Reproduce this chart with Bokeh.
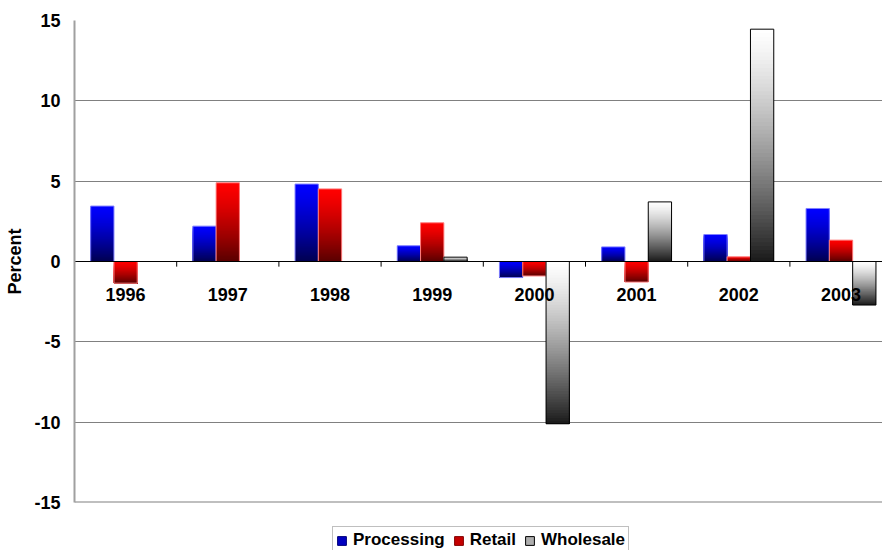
from bokeh.plotting import figure
from bokeh.layouts import column
from bokeh.models import (Range1d, FixedTicker, ColumnDataSource, Legend, LegendItem,
                          CustomJSTickFormatter)
from bokeh.embed import file_html
from bokeh.resources import INLINE

# Annual percent change by sector
years = ["1996", "1997", "1998", "1999", "2000", "2001", "2002", "2003"]
processing = [3.45, 2.2, 4.82, 0.98, -1.0, 0.91, 1.68, 3.3]
retail = [-1.35, 4.9, 4.52, 2.41, -0.9, -1.28, 0.29, 1.33]
wholesale = [None, None, None, 0.27, -10.1, 3.71, 14.46, -2.71]
y_ticks = [-15, -10, -5, 0, 5, 10, 15]

FONT = "Liberation Sans"

# series styling: (name, values, offset, top colour, bottom colour, outline)
series = [
    ("Processing", processing, -0.228, (0, 0, 255), (0, 0, 80), "#8080ff"),
    ("Retail", retail, 0.0, (255, 0, 0), (90, 0, 0), "#ff8080"),
    ("Wholesale", wholesale, 0.228, (255, 255, 255), (26, 26, 26), "#000000"),
]
BAR_W = 0.228
STEPS = 60
X_END = 7.406

p = figure(width=882, height=516, output_backend="svg", toolbar_location=None,
           x_range=Range1d(-0.5, X_END), y_range=Range1d(-15, 15),
           x_axis_location=None, min_border_left=74, min_border_right=0,
           min_border_top=20, min_border_bottom=14)
p.outline_line_color = None
p.background_fill_color = "white"
p.border_fill_color = "white"
p.xgrid.grid_line_color = None
p.ygrid.ticker = FixedTicker(ticks=y_ticks)
p.ygrid.grid_line_color = "#808080"
p.ygrid.grid_line_width = 1

ax = p.yaxis[0]
ax.ticker = FixedTicker(ticks=y_ticks)
ax.formatter = CustomJSTickFormatter(code="return tick.toString();")
ax.major_tick_out = 0
ax.major_tick_in = 0
ax.minor_tick_out = 0
ax.minor_tick_in = 0
ax.axis_line_color = "#a0a0a0"
ax.axis_line_width = 2
ax.major_label_standoff = 14
ax.major_label_text_font = FONT
ax.major_label_text_font_style = "bold"
ax.major_label_text_font_size = "18px"
ax.major_label_text_color = "black"
ax.axis_label = "Percent"
ax.axis_label_text_font = FONT
ax.axis_label_text_font_style = "bold"
ax.axis_label_text_font_size = "18px"
ax.axis_label_text_color = "black"
ax.axis_label_standoff = 6


def mix(c0, c1, t):
    t = t ** 1.3
    r = [round(a + (b - a) * t) for a, b in zip(c0, c1)]
    return "#%02x%02x%02x" % tuple(r)


# strip underneath the chart that carries the legend
lf = figure(width=882, height=34, output_backend="svg", toolbar_location=None,
            x_range=Range1d(0, 1), y_range=Range1d(0, 1),
            x_axis_location=None, y_axis_location=None,
            min_border_left=74, min_border_right=0, min_border_top=0, min_border_bottom=0)
lf.outline_line_color = None
lf.grid.grid_line_color = None
lf.background_fill_color = "white"
lf.border_fill_color = "white"

legend_items = []
for name, vals, off, c_top, c_bot, outline in series:
    sl = dict(left=[], right=[], top=[], bottom=[], color=[])
    ol = dict(left=[], right=[], top=[], bottom=[])
    for i, v in enumerate(vals):
        if v is None:
            continue
        top, bot = max(v, 0.0), min(v, 0.0)
        h = top - bot
        left, right = i + off - BAR_W / 2, i + off + BAR_W / 2
        # nested slices: each shorter one paints a darker band over the last
        for j in range(STEPS):
            sl["left"].append(left)
            sl["right"].append(right)
            sl["bottom"].append(bot)
            sl["top"].append(top - h * j / STEPS)
            sl["color"].append(mix(c_top, c_bot, (j + 0.5) / STEPS))
        ol["left"].append(left)
        ol["right"].append(right)
        ol["top"].append(top)
        ol["bottom"].append(bot)
    p.quad(left="left", right="right", top="top", bottom="bottom",
           fill_color="color", line_color=None, source=ColumnDataSource(sl))
    p.quad(left="left", right="right", top="top", bottom="bottom",
           fill_color=None, line_color=outline, line_width=1,
           source=ColumnDataSource(ol))
    # swatch used only by the legend (zero-size, off the strip's range)
    swatch = lf.quad(left=[5], right=[5], top=[5], bottom=[5],
                     fill_color=mix(c_top, c_bot, 0.45),
                     line_color=outline if name == "Wholesale" else mix(c_top, c_bot, 0.8),
                     line_width=1)
    legend_items.append(LegendItem(label=name, renderers=[swatch]))

# bottom border of the value range
p.segment(x0=[-0.5], x1=[X_END], y0=[-15], y1=[-15], line_color="#808080", line_width=2)

# category axis drawn along the zero line
p.segment(x0=[-0.5], x1=[X_END], y0=[0], y1=[0], line_color="black", line_width=1)
bounds = [k + 0.5 for k in range(len(years) - 1)]
p.segment(x0=bounds, x1=bounds, y0=[0] * len(bounds), y1=[-0.32] * len(bounds),
          line_color="black", line_width=1)
p.text(x=list(range(len(years))), y=[0] * len(years), text=years,
       text_align="center", text_baseline="alphabetic", y_offset=33,
       text_font={"value": FONT}, text_font_style="bold",
       text_font_size="18px", text_color="black")

legend = Legend(items=legend_items, orientation="horizontal", location=(258, -4),
                label_text_font=FONT, label_text_font_style="bold",
                label_text_font_size="17px", label_text_color="black",
                glyph_width=11, glyph_height=11, label_standoff=6, spacing=8,
                padding=3, margin=0, border_line_color="#808080",
                border_line_width=1, background_fill_color="white",
                background_fill_alpha=1.0)
lf.add_layout(legend, "center")

page = column(p, lf, spacing=0)
open("out.html", "w").write(file_html(page, INLINE))
